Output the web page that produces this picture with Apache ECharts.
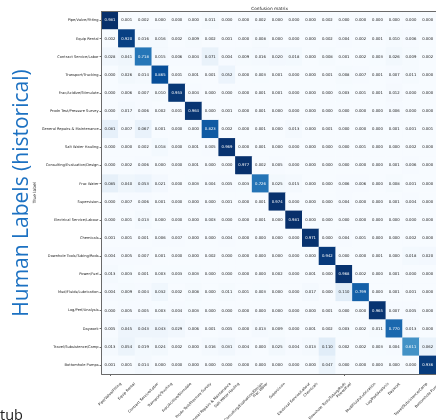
<!DOCTYPE html>
<html>
<head>
<meta charset="utf-8">
<script src="https://cdn.jsdelivr.net/npm/echarts@6/dist/echarts.min.js"></script>
<style>
  html, body { margin: 0; padding: 0; background: #fff; }
  #chart { width: 436px; height: 420px; }
</style>
</head>
<body>
<div id="chart"></div>
<script>
// Class names, shared by rows (true label) and columns (predicted label)
const classNames = [
  'Pipe/Valve/Fitting', 'Equip Rental', 'Contract Service/Labor', 'Transport/Trucking',
  'Frac/Acidize/Stimulate', 'Prodn Test/Pressure Survey', 'General Repairs & Maintenance',
  'Salt Water Hauling', 'Consulting/Evaluation/Design', 'Frac Water', 'Supervision',
  'Electrical Service/Labour', 'Chemicals', 'Downhole Tools/Tubing/Rods', 'Power/Fuel',
  'Mud/Fluids/Lubrication', 'Log/Perf/Analysis', 'Daywork', 'Travel/Subsistence/Camp',
  'Bottomhole Pumps'
];

// Normalised confusion matrix, one list per true class
const confusionRows = [
  [0.981,0.001,0.002,0.000,0.000,0.000,0.011,0.000,0.000,0.002,0.000,0.000,0.000,0.002,0.000,0.000,0.000,0.000,0.000,0.000],
  [0.002,0.920,0.016,0.016,0.002,0.009,0.002,0.001,0.000,0.008,0.000,0.000,0.000,0.002,0.004,0.002,0.001,0.010,0.006,0.000],
  [0.028,0.041,0.718,0.015,0.006,0.004,0.071,0.004,0.009,0.016,0.020,0.018,0.000,0.008,0.001,0.002,0.003,0.026,0.009,0.002],
  [0.000,0.026,0.014,0.865,0.001,0.001,0.001,0.052,0.000,0.003,0.001,0.000,0.000,0.001,0.008,0.007,0.001,0.007,0.011,0.000],
  [0.000,0.006,0.007,0.010,0.953,0.004,0.000,0.000,0.000,0.001,0.001,0.000,0.000,0.000,0.003,0.001,0.001,0.012,0.000,0.000],
  [0.000,0.017,0.006,0.002,0.001,0.964,0.000,0.001,0.000,0.001,0.000,0.000,0.000,0.000,0.000,0.000,0.000,0.006,0.000,0.000],
  [0.081,0.007,0.067,0.001,0.000,0.000,0.823,0.002,0.000,0.001,0.000,0.013,0.000,0.001,0.000,0.000,0.000,0.001,0.001,0.001],
  [0.000,0.000,0.002,0.018,0.000,0.001,0.005,0.969,0.000,0.001,0.000,0.000,0.000,0.000,0.000,0.001,0.000,0.000,0.002,0.000],
  [0.000,0.002,0.006,0.000,0.000,0.001,0.000,0.000,0.977,0.002,0.005,0.000,0.000,0.000,0.000,0.000,0.000,0.001,0.006,0.000],
  [0.085,0.040,0.053,0.021,0.000,0.003,0.004,0.005,0.003,0.726,0.025,0.015,0.000,0.000,0.006,0.006,0.000,0.008,0.001,0.000],
  [0.000,0.007,0.006,0.001,0.000,0.000,0.000,0.001,0.000,0.001,0.974,0.000,0.000,0.000,0.004,0.000,0.000,0.001,0.004,0.000],
  [0.000,0.001,0.013,0.000,0.000,0.000,0.003,0.000,0.000,0.001,0.000,0.981,0.000,0.000,0.000,0.000,0.000,0.000,0.000,0.000],
  [0.001,0.001,0.001,0.006,0.007,0.000,0.000,0.004,0.000,0.000,0.000,0.000,0.971,0.000,0.004,0.001,0.000,0.000,0.002,0.000],
  [0.004,0.005,0.007,0.001,0.000,0.000,0.002,0.000,0.000,0.000,0.000,0.000,0.000,0.942,0.000,0.000,0.001,0.000,0.018,0.020],
  [0.013,0.003,0.001,0.003,0.003,0.003,0.000,0.000,0.000,0.000,0.002,0.000,0.001,0.000,0.968,0.002,0.000,0.001,0.000,0.000],
  [0.004,0.009,0.004,0.032,0.002,0.008,0.000,0.011,0.001,0.003,0.000,0.000,0.017,0.000,0.110,0.799,0.000,0.001,0.001,0.000],
  [0.000,0.005,0.005,0.003,0.004,0.003,0.000,0.000,0.000,0.000,0.000,0.000,0.000,0.001,0.000,0.000,0.965,0.007,0.005,0.000],
  [0.005,0.045,0.043,0.043,0.029,0.006,0.001,0.005,0.000,0.013,0.009,0.000,0.001,0.002,0.003,0.002,0.011,0.770,0.013,0.000],
  [0.013,0.054,0.019,0.024,0.002,0.000,0.016,0.031,0.004,0.000,0.025,0.004,0.013,0.110,0.002,0.002,0.003,0.004,0.611,0.062],
  [0.001,0.001,0.014,0.000,0.000,0.000,0.000,0.000,0.000,0.000,0.000,0.000,0.000,0.047,0.000,0.000,0.000,0.000,0.000,0.936]
];

// Sequential blue colour ramp
const bluesRamp = ['#f7fbff','#deebf7','#c6dbef','#9ecae1','#6baed6','#4292c6','#2171b5','#08519c','#08306b'];

const titleText = 'Confusion matrix';
const yAxisTitle = 'True label';
const sideCaption = 'Human Labels (historical)';
const footerFragment = 'tub';

// Layout
const GRID = { left: 101.6, top: 11.4, width: 336, height: 362.6 };
const SMALL_FONT = 'DejaVu Sans';
const TICK_FS = 3.6;
const CELL_FS = 3.8;

const vmax = Math.max(...confusionRows.flat());
const whiteAbove = vmax / 2;

const cells = [];
confusionRows.forEach((row, r) => {
  row.forEach((v, c) => {
    cells.push({ value: [c, r, v], label: { color: v > whiteAbove ? '#ffffff' : '#1a1a1a' } });
  });
});

const chart = echarts.init(document.getElementById('chart'), null, { renderer: 'canvas' });

const frameLine = { show: true, lineStyle: { color: '#6a6a6a', width: 1 } };

chart.setOption({
  animation: false,
  grid: { left: GRID.left, top: GRID.top, width: GRID.width, height: GRID.height },
  xAxis: [
    {
      type: 'category', data: classNames, position: 'bottom', z: 5,
      axisLine: frameLine,
      axisTick: { show: true, alignWithLabel: true, length: 2, lineStyle: { color: '#6a6a6a' } },
      axisLabel: { show: false },
      splitLine: { show: false }
    },
    {
      type: 'category', data: classNames, position: 'top', z: 5,
      axisLine: frameLine,
      axisTick: { show: false },
      axisLabel: { show: false },
      splitLine: { show: false }
    }
  ],
  yAxis: {
    type: 'category', data: classNames, inverse: true, z: 5,
    axisLine: frameLine,
    axisTick: { show: true, alignWithLabel: true, length: 2, lineStyle: { color: '#6a6a6a' } },
    axisLabel: { fontSize: TICK_FS, fontFamily: SMALL_FONT, color: '#222', margin: 3, interval: 0 },
    splitLine: { show: false }
  },
  visualMap: {
    show: false, min: 0, max: vmax, dimension: 2,
    inRange: { color: bluesRamp }
  },
  series: [{
    type: 'heatmap',
    data: cells,
    label: {
      show: true,
      fontSize: CELL_FS,
      fontFamily: SMALL_FONT,
      formatter: p => p.value[2].toFixed(3)
    },
    emphasis: { disabled: true }
  }]
});

// Column labels: rotated 45 deg, each label's bounding box centred under its tick
const measureCtx = document.createElement('canvas').getContext('2d');
measureCtx.font = TICK_FS + 'px "' + SMALL_FONT + '"';
const axisBottom = GRID.top + GRID.height;
const graphics = [];

classNames.forEach(name => {
  const px = chart.convertToPixel({ xAxisIndex: 0 }, name);
  const len = measureCtx.measureText(name).width;
  const box = (len + TICK_FS) * Math.SQRT1_2;
  graphics.push({
    type: 'text', silent: true,
    x: px, y: axisBottom + 8 + box / 2,
    rotation: Math.PI / 4,
    style: { text: name, fontSize: TICK_FS, fontFamily: SMALL_FONT, fill: '#222', align: 'center', verticalAlign: 'middle' }
  });
});

// Title and axis name
graphics.push({
  type: 'text', silent: true,
  x: GRID.left + GRID.width / 2, y: 8.7,
  style: { text: titleText, fontSize: 4.3, fontFamily: SMALL_FONT, fill: '#222', align: 'center', verticalAlign: 'middle' }
});
graphics.push({
  type: 'text', silent: true,
  x: 35, y: GRID.top + GRID.height / 2,
  rotation: Math.PI / 2,
  style: { text: yAxisTitle, fontSize: 4.3, fontFamily: SMALL_FONT, fill: '#222', align: 'center', verticalAlign: 'middle' }
});

// Large caption along the left edge
graphics.push({
  type: 'text', silent: true,
  x: 22, y: 193,
  rotation: Math.PI / 2,
  style: { text: sideCaption, fontSize: 21, fontFamily: 'Open Sans', fill: '#1c71c2', align: 'center', verticalAlign: 'middle' }
});

// Footer fragment at the lower-left corner
graphics.push({
  type: 'text', silent: true,
  x: 0, y: 423,
  style: { text: footerFragment, fontSize: 14.5, fontFamily: 'Open Sans', fill: '#222', align: 'left', verticalAlign: 'bottom' }
});

chart.setOption({ graphic: graphics });
</script>
</body>
</html>
